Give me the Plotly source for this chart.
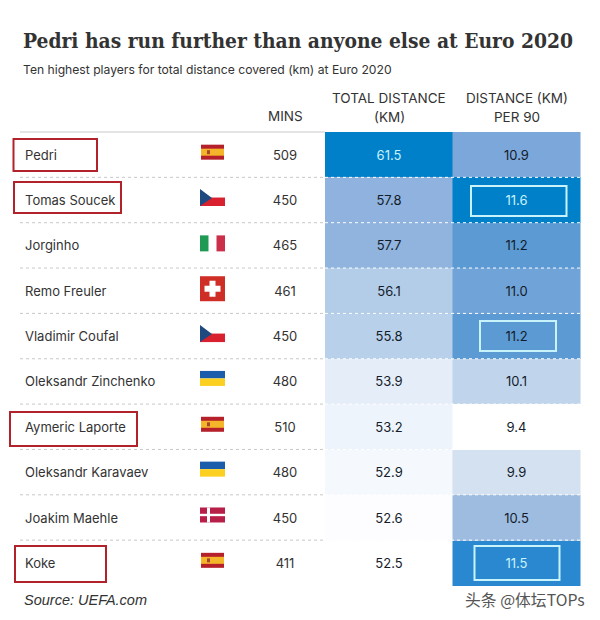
import plotly.graph_objects as go

# table contents
players = ['Pedri', 'Tomas Soucek', 'Jorginho', 'Remo Freuler', 'Vladimir Coufal',
           'Oleksandr Zinchenko', 'Aymeric Laporte', 'Oleksandr Karavaev', 'Joakim Maehle', 'Koke']
flags = ['es', 'cz', 'it', 'ch', 'cz', 'ua', 'es', 'ua', 'dk', 'es']
mins = [509, 450, 465, 461, 450, 480, 510, 480, 450, 411]
total_km = [61.5, 57.8, 57.7, 56.1, 55.8, 53.9, 53.2, 52.9, 52.6, 52.5]
per_90 = [10.9, 11.6, 11.2, 11.0, 11.2, 10.1, 9.4, 9.9, 10.5, 11.5]
red_boxes = ['Pedri', 'Tomas Soucek', 'Aymeric Laporte', 'Koke']

TOP = 132
ROW_H = 45.35
INK = '#333333'
CELL_INK = '#141c2b'
PALE = '#c9f3fb'
n = len(players)
row_mid = [TOP + ROW_H * (i + 0.5) for i in range(n)]
row_edges = [TOP + ROW_H * i for i in range(n + 1)]
text_y = [y + 1.8 for y in row_mid]


def scale(stops):
    lo, hi = stops[0][0], stops[-1][0]
    return [[(v - lo) / (hi - lo), c] for v, c in stops]


total_stops = [(52.5, '#ffffff'), (53.2, '#eef4fc'), (53.9, '#e4edf8'), (55.8, '#b9d0ea'),
               (57.8, '#8fb3de'), (61.5, '#0080c8')]
per90_stops = [(9.4, '#ffffff'), (9.9, '#d3e1f1'), (10.1, '#c0d5ec'), (10.5, '#9dbce0'),
               (10.9, '#7ba7da'), (11.2, '#5b9ad2'), (11.5, '#2a88d0'), (11.6, '#0080c8')]

fig = go.Figure()

fig.add_trace(go.Heatmap(x=[325, 452.5], y=row_edges, z=[[v] for v in total_km],
                         colorscale=scale(total_stops), zmin=52.5, zmax=61.5,
                         showscale=False, hoverinfo='skip'))
fig.add_trace(go.Heatmap(x=[452.5, 580.5], y=row_edges, z=[[v] for v in per_90],
                         colorscale=scale(per90_stops), zmin=9.4, zmax=11.6,
                         showscale=False, hoverinfo='skip'))

body = dict(family='Inter, sans-serif', size=13)
fig.add_trace(go.Scatter(x=[25] * n, y=text_y, text=players, mode='text', textposition='middle right',
                         textfont=dict(color=INK, **body), hoverinfo='skip'))
fig.add_trace(go.Scatter(x=[285] * n, y=text_y, text=[str(m) for m in mins], mode='text',
                         textfont=dict(color=INK, **body), hoverinfo='skip'))
fig.add_trace(go.Scatter(x=[389] * n, y=text_y, text=[f'{v:.1f}' for v in total_km], mode='text',
                         textfont=dict(color=[PALE if v > 60 else CELL_INK for v in total_km], **body),
                         hoverinfo='skip'))
fig.add_trace(go.Scatter(x=[516.5] * n, y=text_y, text=[f'{v:.1f}' for v in per_90], mode='text',
                         textfont=dict(color=[PALE if v >= 11.5 else CELL_INK for v in per_90], **body),
                         hoverinfo='skip'))

shapes = []


def rect(x0, y0, x1, y1, color):
    shapes.append(dict(type='rect', x0=x0, y0=y0, x1=x1, y1=y1, fillcolor=color, line_width=0))


def draw_flag(code, y):
    if code == 'es':
        rect(201, y - 7.5, 224, y + 7.5, '#b5202a')
        rect(201, y - 3.5, 224, y + 3.5, '#f5b52a')
        rect(207, y - 2, 210, y + 2, '#a8482a')
    elif code == 'cz':
        rect(200, y - 0.5, 225, y + 8, '#d8202e')
        shapes.append(dict(type='path', path=f'M 200 {y - 9} L 212 {y} L 200 {y + 8} Z',
                           fillcolor='#1f4a80', line_width=0))
    elif code == 'it':
        rect(200, y - 8, 208.5, y + 8, '#1f9a55')
        rect(216.5, y - 8, 225, y + 8, '#cc2f4a')
    elif code == 'ch':
        rect(200, y - 12.5, 225, y + 12.5, '#cf2e26')
        rect(204.5, y - 3, 220.5, y + 3, '#ffffff')
        rect(209.5, y - 8, 215.5, y + 8, '#ffffff')
    elif code == 'ua':
        rect(200, y - 7.5, 225, y, '#1b5cab')
        rect(200, y, 225, y + 7.5, '#fcd020')
    elif code == 'dk':
        rect(200, y - 7.5, 225, y + 7.5, '#b81f48')
        rect(207, y - 7.5, 210, y + 7.5, '#ffffff')
        rect(200, y - 1.2, 225, y + 1.2, '#ffffff')


flag_shift = {'es': -2.5, 'cz': -2, 'it': -2, 'ch': -2, 'ua': -3, 'dk': -2.5}
for code, y in zip(flags, row_mid):
    draw_flag(code, y + flag_shift[code])

# header rule and dashed row separators
shapes.append(dict(type='line', x0=20, x1=325, y0=TOP, y1=TOP, line=dict(color='#e4e4e4', width=2)))
for y in row_edges[1:-1]:
    shapes.append(dict(type='line', x0=20, x1=325, y0=y, y1=y, line=dict(color='#c8c8c8', width=1, dash='3px,3px')))
    shapes.append(dict(type='line', x0=325, x1=580.5, y0=y, y1=y, line=dict(color='#ffffff', width=1, dash='3px,3px')))

# hand-drawn highlight boxes
box_extent = {'Pedri': (13.5, 139, 97, 171), 'Tomas Soucek': (14, 182, 121, 213),
              'Aymeric Laporte': (10, 412, 137, 446), 'Koke': (15, 546, 106, 582)}
for name in red_boxes:
    x0, y0, x1, y1 = box_extent[name]
    shapes.append(dict(type='rect', x0=x0, y0=y0, x1=x1, y1=y1, line=dict(color='#b2222a', width=2)))
for x0, y0, x1, y1 in [(471, 186, 566.5, 216), (480, 321, 556, 351), (474.5, 546, 559.5, 580)]:
    shapes.append(dict(type='rect', x0=x0, y0=y0, x1=x1, y1=y1, line=dict(color=PALE, width=2)))


def label(x, y, text, anchor='center', **font):
    return dict(x=x, y=y, xref='x', yref='y', text=text, showarrow=False, xanchor=anchor, yanchor='middle', font=font)


head = dict(family='Inter, sans-serif', size=13.5, color=INK)
fig.update_layout(
    width=600,
    height=620,
    margin=dict(l=0, r=0, t=0, b=0),
    paper_bgcolor='white',
    plot_bgcolor='white',
    showlegend=False,
    xaxis=dict(range=[0, 600], visible=False, fixedrange=True),
    yaxis=dict(range=[620, 0], visible=False, fixedrange=True),
    shapes=shapes,
    annotations=[
        label(21, 40, '<b>Pedri has run further than anyone else at Euro 2020</b>', 'left',
              family='DejaVu Serif Condensed, DejaVu Serif, serif', size=20.8, color=INK),
        label(21, 69, 'Ten highest players for total distance covered (km) at Euro 2020', 'left',
              family='Inter, sans-serif', size=12.15, color=INK),
        label(285, 116, 'MINS', **head),
        label(389, 98, 'TOTAL DISTANCE', **head),
        label(389, 116.5, '(KM)', **head),
        label(516.5, 98, 'DISTANCE (KM)', **head),
        label(516.5, 116.5, 'PER 90', **head),
        label(22, 600, '<i>Source: UEFA.com</i>', 'left', family='Liberation Sans, sans-serif', size=14.5, color=INK),
        label(463, 599, '头条 @体坛TOPs', 'left', family='Noto Sans CJK SC, sans-serif', size=15.8, color='#555555'),
    ],
)

fig.write_html('out.html', post_script="document.body.style.margin='0';", config=dict(displayModeBar=False))
